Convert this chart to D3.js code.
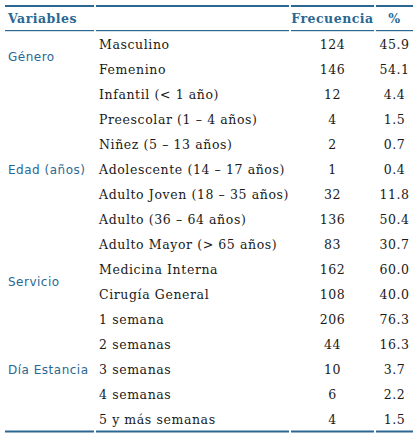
<!DOCTYPE html>
<html>
<head>
<meta charset="utf-8">
<script src="https://cdn.jsdelivr.net/npm/d3@7"></script>
<style>
  body { margin: 0; background: #fff; }
</style>
</head>
<body>
<svg id="tabla" width="418" height="438"></svg>
<script>
// Datos de la tabla
var headers = ["Variables", "", "Frecuencia", "%"]
var categorias = ["Masculino", "Femenino", "Infantil (< 1 año)", "Preescolar (1 – 4 años)", "Niñez (5 – 13 años)",
  "Adolescente (14 – 17 años)", "Adulto Joven (18 – 35 años)", "Adulto (36 – 64 años)", "Adulto Mayor (> 65 años)",
  "Medicina Interna", "Cirugía General", "1 semana", "2 semanas", "3 semanas", "4 semanas", "5 y más semanas"]
var frecuencias = [124, 146, 12, 4, 2, 1, 32, 136, 83, 162, 108, 206, 44, 10, 6, 4]
var porcentajes = ["45.9", "54.1", "4.4", "1.5", "0.7", "0.4", "11.8", "50.4", "30.7", "60.0", "40.0", "76.3", "16.3", "3.7", "2.2", "1.5"]
var grupos = ["Género", "Edad (años)", "Servicio", "Día Estancia"]
var grupoInicio = [0, 2, 9, 11]
var grupoFin = [1, 8, 10, 15]

var blue = "#2a6892"
var svg = d3.select("#tabla")

// columnas: [x0, x1]
var cols = [[5, 94], [96, 289], [291, 374], [376, 413]]

var y = d3.scaleBand()
  .domain(d3.range(categorias.length))
  .range([32, 432])

// lineas superiores, de cabecera e inferiores
cols.forEach(function (c) {
  svg.append("rect").attr("x", c[0]).attr("y", 5).attr("width", c[1] - c[0]).attr("height", 2).attr("fill", blue)
  svg.append("rect").attr("x", c[0]).attr("y", 30).attr("width", c[1] - c[0]).attr("height", 1.2).attr("fill", blue)
  svg.append("rect").attr("x", c[0]).attr("y", 430.5).attr("width", c[1] - c[0]).attr("height", 2).attr("fill", blue)
})

// cabecera
headers.forEach(function (h, i) {
  if (!h) return
  svg.append("text")
    .attr("x", i == 0 ? cols[0][0] + 3 : (cols[i][0] + cols[i][1]) / 2)
    .attr("y", 19)
    .attr("dy", "0.35em")
    .attr("text-anchor", i == 0 ? "start" : "middle")
    .style("font-family", "DejaVu Serif")
    .style("font-weight", "bold")
    .style("font-size", "12.5px")
    .style("letter-spacing", "0.5px")
    .attr("fill", blue)
    .text(h)
})

// grupos
grupos.forEach(function (g, i) {
  var yc = (y(grupoInicio[i]) + y(grupoFin[i]) + y.bandwidth()) / 2
  svg.append("text")
    .attr("x", cols[0][0] + 3)
    .attr("y", yc)
    .attr("dy", "0.35em")
    .style("font-family", "DejaVu Sans")
    .style("font-size", "12px")
    .style("letter-spacing", "0.5px")
    .attr("fill", blue)
    .text(g)
})

var rows = svg.selectAll(".fila")
  .data(categorias)
  .enter()
  .append("g")
  .attr("class", "fila")
  .attr("transform", function (d, i) { return "translate(0," + (y(i) + y.bandwidth() / 2) + ")" })
  .style("font-family", "DejaVu Serif")
  .style("font-size", "12.5px")
  .style("letter-spacing", "0.6px")
  .attr("fill", "#1a1a1a")

rows.append("text")
  .attr("x", cols[1][0] + 3)
  .attr("dy", "0.35em")
  .text(function (d) { return d })

rows.append("text")
  .attr("x", (cols[2][0] + cols[2][1]) / 2)
  .attr("dy", "0.35em")
  .attr("text-anchor", "middle")
  .text(function (d, i) { return frecuencias[i] })

rows.append("text")
  .attr("x", (cols[3][0] + cols[3][1]) / 2)
  .attr("dy", "0.35em")
  .attr("text-anchor", "middle")
  .text(function (d, i) { return porcentajes[i] })
</script>
</body>
</html>
